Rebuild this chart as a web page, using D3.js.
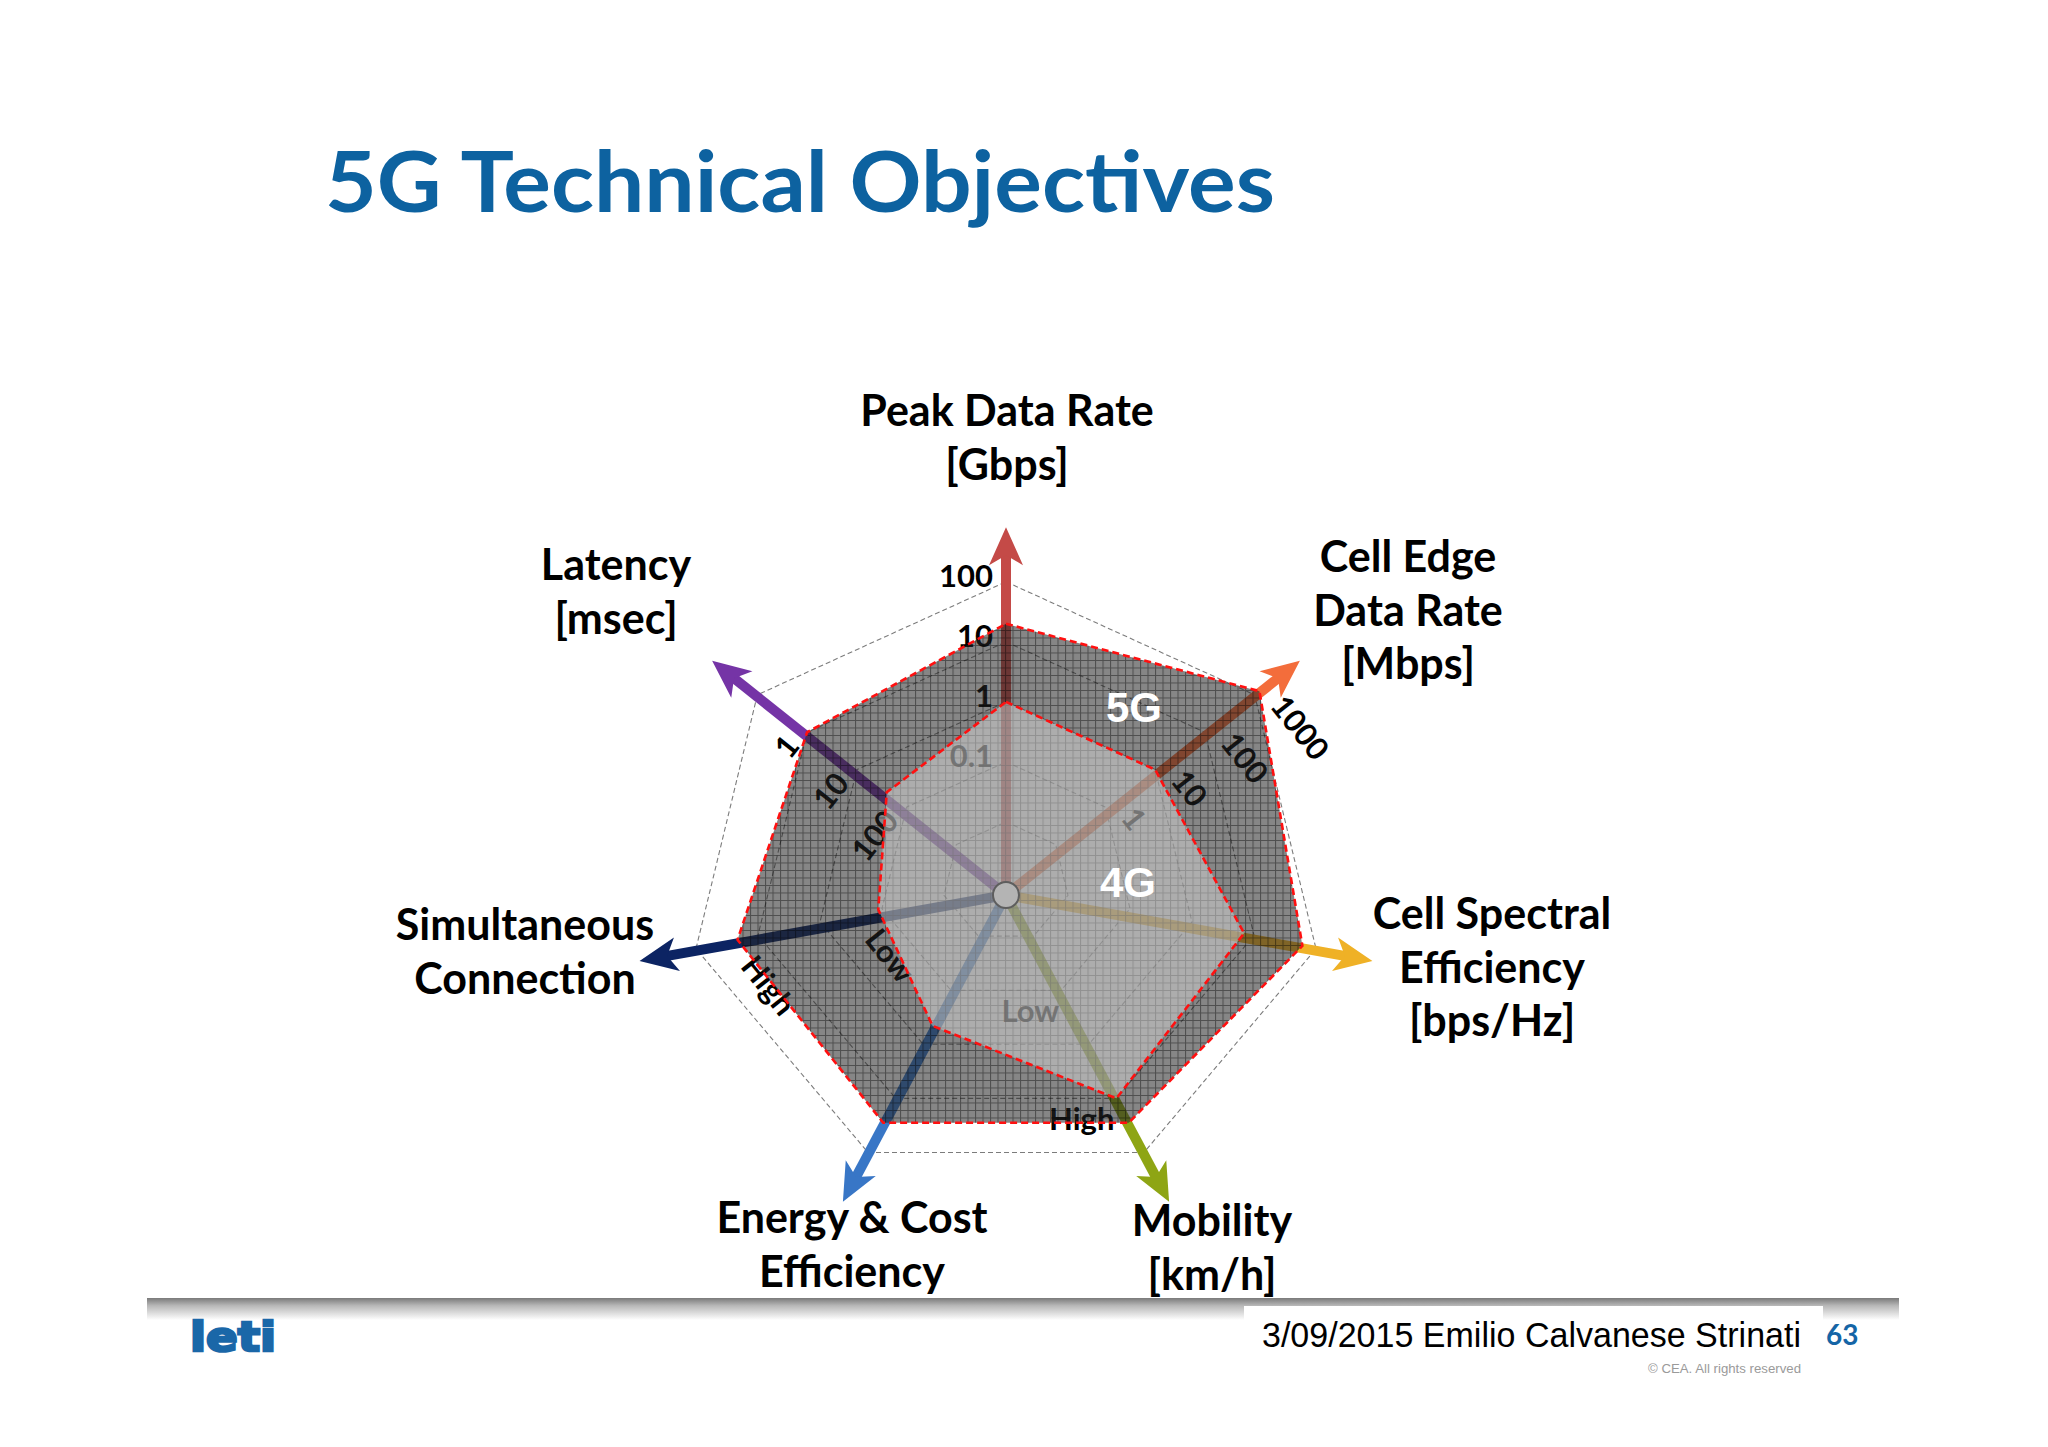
<!DOCTYPE html>
<html><head><meta charset="utf-8">
<script src="https://cdn.jsdelivr.net/npm/d3@7"></script>
<style>html,body{margin:0;padding:0;background:#fff;} svg{display:block}</style>
</head><body>
<svg id="c" width="2048" height="1447"></svg>
<script>
// ================= DATA =================
const axisNames = ["Peak Data Rate", "Cell Edge Data Rate", "Cell Spectral Efficiency", "Mobility",
                   "Energy & Cost Efficiency", "Simultaneous Connection", "Latency"];
const axisTitleLines = [
  ["Peak Data Rate", "[Gbps]"],
  ["Cell Edge", "Data Rate", "[Mbps]"],
  ["Cell Spectral", "Efficiency", "[bps/Hz]"],
  ["Mobility", "[km/h]"],
  ["Energy & Cost", "Efficiency"],
  ["Simultaneous", "Connection"],
  ["Latency", "[msec]"]
];
// tick values (in each axis' own unit) and their printed labels
const tickValues = [[0.1, 1, 10, 100], [1, 10, 100, 1000], [], [2, 4], [], [2, 4], [100, 10, 1]];
const tickLabels = [["0.1", "1", "10", "100"], ["1", "10", "100", "1000"], [], ["Low", "High"], [], ["Low", "High"], ["100", "10", "1"]];
// series values: Gbps, Mbps, relative score, relative score, relative score, relative score, msec
const values5G = [20, 1250, 4.78, 4.45, 4.45, 4.33, 1];
const values4G = [1, 10, 3.84, 4.0, 2.66, 2.06, 40];
const seriesNames = ["5G", "4G"];
const titleText = "5G Technical Objectives";
const footerText = "3/09/2015 Emilio Calvanese Strinati";
const pageNumber = "63";
const copyrightText = "\u00A9 CEA. All rights reserved";
const logoText = "leti";

// ================= LAYOUT / STYLE =================
const W = 2048, H = 1447;
const cx = 1006, cy = 882;
const SY = 0.944;               // slight vertical squash of the original drawing
const hubDy = 13;               // arrows converge on a hub drawn slightly below the grid centre
const nAxes = axisNames.length;
const arrowColors = ["#c44a47", "#f36d3b", "#efb126", "#8ea514", "#3876c6", "#0c2463", "#7534a6"];
const arrowLevel = 5.91;        // arrows reach beyond outer ring (ring-level units)
const labelPos = [[1, -456], [402, -310], [486, 47], [206, 354], [-154, 351], [-481, 58], [-390, -302]];
const tickStyle = [
  {rot: 0, anchor: "end", dx: -13, dy: 5},
  {rot: 51.43, anchor: "start", dx: 18, dy: -4},
  null,
  {rot: 0, anchor: "end", dx: -2, dy: 32},
  null,
  {rot: 51.43, anchor: "start", dx: 13, dy: 34},
  {rot: -51.43, anchor: "end", dx: -15, dy: 4}
];
const labelFont = "Lato, 'Open Sans', 'DejaVu Sans', sans-serif";

// ================= SCALES =================
const levelScales = [
  d3.scaleLog().domain([0.01, 100]).range([1, 5]),
  d3.scaleLog().domain([0.1, 1000]).range([1, 5]),
  d3.scaleLinear().domain([0, 5]).range([0, 5]),
  d3.scaleLinear().domain([0, 5]).range([0, 5]),
  d3.scaleLinear().domain([0, 5]).range([0, 5]),
  d3.scaleLinear().domain([0, 5]).range([0, 5]),
  d3.scaleLog().domain([1000, 0.1]).range([1, 5])
];
const rScale = d3.scaleLinear().domain([0, 5]).range([0, 318]);
const angle = d3.scaleLinear().domain([0, nAxes]).range([0, 2 * Math.PI]);
const pt = (i, level) => [cx + rScale(level) * Math.sin(angle(i)), cy - rScale(level) * Math.cos(angle(i)) * SY];
const closedLine = d3.line().curve(d3.curveLinearClosed);

const svg = d3.select("#c");
const defs = svg.append("defs");

// 5G grid texture
const pat = defs.append("pattern").attr("id", "grid5g").attr("patternUnits", "userSpaceOnUse")
  .attr("width", 7.5).attr("height", 7.5);
pat.append("rect").attr("width", 7.5).attr("height", 7.5).attr("fill", "rgb(40,40,40)").attr("fill-opacity", 0.56);
pat.append("path").attr("d", "M0 0.5H7.5M0.5 0V7.5").attr("stroke", "#000").attr("stroke-opacity", 0.42).attr("stroke-width", 1.1);

// footer gradient
const grad = defs.append("linearGradient").attr("id", "footGrad").attr("x1", 0).attr("y1", 0).attr("x2", 0).attr("y2", 1);
grad.append("stop").attr("offset", "0%").attr("stop-color", "#7a7a7a");
grad.append("stop").attr("offset", "35%").attr("stop-color", "#b8b8b8");
grad.append("stop").attr("offset", "100%").attr("stop-color", "#ffffff");

svg.append("rect").attr("width", W).attr("height", H).attr("fill", "#ffffff");

// ================= TITLE =================
svg.append("text").attr("x", 325).attr("y", 212)
  .attr("font-family", "Lato, 'Open Sans', sans-serif").attr("font-weight", 700).attr("font-size", 84)
  .attr("fill", "#0d62a0").attr("textLength", 950).attr("lengthAdjust", "spacingAndGlyphs")
  .text(titleText);

const chart = svg.append("g");

// ================= RINGS =================
chart.append("g").selectAll("path").data([1, 2, 3, 4, 5]).join("path")
  .attr("d", lv => closedLine(d3.range(nAxes).map(i => pt(i, lv))))
  .attr("fill", "none").attr("stroke", "#7c7c7c").attr("stroke-width", 1.1).attr("stroke-dasharray", "5,3");

// ================= ARROWS =================
const hx = cx, hy = cy + hubDy;
const arrows = chart.append("g");
d3.range(nAxes).forEach(i => {
  const tip = pt(i, arrowLevel);
  const dx = tip[0] - hx, dy = tip[1] - hy, len = Math.hypot(dx, dy);
  const ux = dx / len, uy = dy / len;
  arrows.append("line").attr("x1", hx).attr("y1", hy).attr("x2", tip[0] - 27 * ux).attr("y2", tip[1] - 27 * uy)
    .attr("stroke", arrowColors[i]).attr("stroke-width", 10);
  const deg = Math.atan2(dy, dx) * 180 / Math.PI;
  arrows.append("path").attr("d", "M0,0 L-38,-17 L-28,0 L-38,17 Z")
    .attr("transform", `translate(${tip[0]},${tip[1]}) rotate(${deg})`)
    .attr("fill", arrowColors[i]);
});

// ================= TICK LABELS =================
const ticks = chart.append("g");
d3.range(nAxes).forEach(i => {
  const st = tickStyle[i];
  if (!st) return;
  tickValues[i].forEach((v, k) => {
    const p = pt(i, levelScales[i](v));
    ticks.append("text")
      .attr("transform", `translate(${p[0]},${p[1]}) rotate(${st.rot})`)
      .attr("x", st.dx).attr("y", st.dy).attr("text-anchor", st.anchor)
      .attr("font-family", labelFont).attr("font-weight", 700).attr("font-size", 31)
      .attr("fill", "#000").text(tickLabels[i][k]);
  });
});

// ================= POLYGONS =================
const poly = vals => closedLine(vals.map((v, i) => pt(i, levelScales[i](v))));
const pg = chart.append("g");
pg.append("path").attr("d", poly(values5G)).attr("fill", "url(#grid5g)");
pg.append("path").attr("d", poly(values4G)).attr("fill", "rgb(212,212,212)").attr("fill-opacity", 0.5);
[values5G, values4G].forEach(vals => {
  pg.append("path").attr("d", poly(vals)).attr("fill", "none")
    .attr("stroke", "#ff1010").attr("stroke-width", 2.6).attr("stroke-dasharray", "7,4");
});

// series labels
[[seriesNames[0], 128, -160], [seriesNames[1], 122, 15]].forEach(([name, ox, oy]) => {
  chart.append("text").attr("x", cx + ox).attr("y", cy + oy).attr("text-anchor", "middle")
    .attr("font-family", "'Liberation Sans', Arial, sans-serif").attr("font-weight", 700).attr("font-size", 42)
    .attr("fill", "#ffffff").text(name);
});

// center hub
chart.append("circle").attr("cx", hx).attr("cy", hy).attr("r", 13)
  .attr("fill", "#b4b4b4").attr("stroke", "#5e5e5e").attr("stroke-width", 2);

// ================= AXIS TITLES =================
const at = chart.append("g");
d3.range(nAxes).forEach(i => {
  const t = at.append("text").attr("text-anchor", "middle")
    .attr("font-family", labelFont).attr("font-weight", 700).attr("font-size", 43).attr("fill", "#000");
  axisTitleLines[i].forEach((ln, k) => {
    t.append("tspan").attr("x", cx + labelPos[i][0]).attr("y", cy + labelPos[i][1] + k * 53.5).text(ln);
  });
});

// ================= FOOTER =================
svg.append("rect").attr("x", 147).attr("y", 1298).attr("width", 1752).attr("height", 22).attr("fill", "url(#footGrad)");
svg.append("rect").attr("x", 1244).attr("y", 1306).attr("width", 579).attr("height", 54).attr("fill", "#ffffff");
svg.append("text").attr("x", 1262).attr("y", 1347)
  .attr("font-family", "'Liberation Sans Narrow', 'Liberation Sans', Arial, sans-serif").attr("font-size", 35)
  .attr("fill", "#000").attr("textLength", 539).attr("lengthAdjust", "spacingAndGlyphs").text(footerText);
svg.append("text").attr("x", 1826).attr("y", 1345)
  .attr("font-family", labelFont).attr("font-weight", 700).attr("font-size", 28)
  .attr("fill", "#1565a6").text(pageNumber);
svg.append("text").attr("x", 1801).attr("y", 1373).attr("text-anchor", "end")
  .attr("font-family", "'Liberation Sans Narrow', 'Liberation Sans', Arial, sans-serif").attr("font-size", 12)
  .attr("fill", "#9a9a9a").attr("textLength", 153).attr("lengthAdjust", "spacingAndGlyphs").text(copyrightText);
svg.append("text").attr("x", 190).attr("y", 1351)
  .attr("font-family", "'DejaVu Sans', sans-serif").attr("font-weight", 900).attr("font-size", 40)
  .attr("fill", "#1a67a8").attr("stroke", "#1a67a8").attr("stroke-width", 2.5)
  .attr("textLength", 86).attr("lengthAdjust", "spacingAndGlyphs").text(logoText);
</script>
</body></html>
